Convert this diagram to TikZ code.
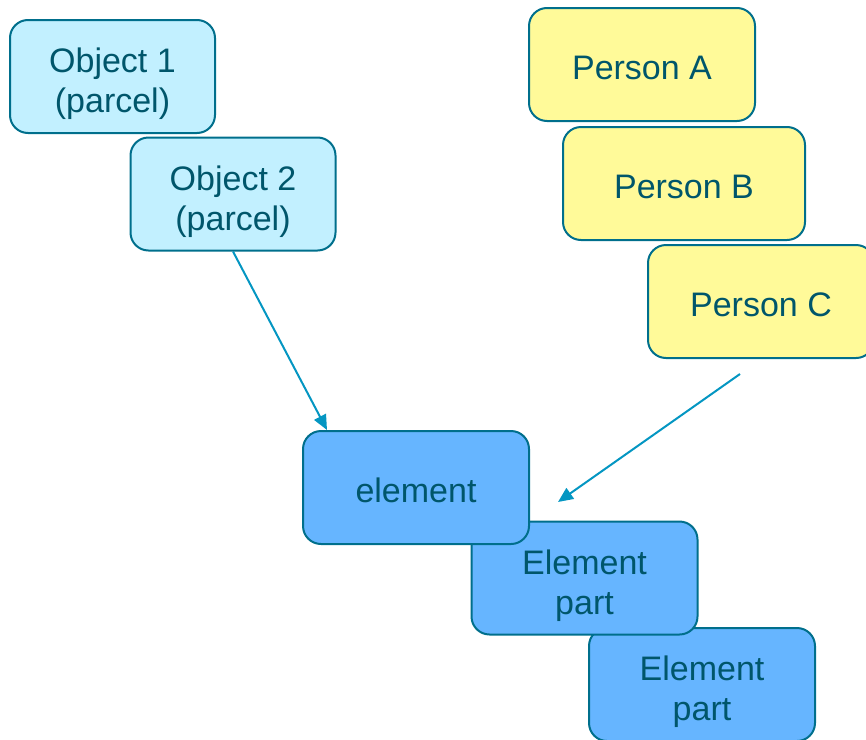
\documentclass[tikz,border=0pt]{standalone}
\usepackage{fontspec}
\setmainfont{Liberation Sans}
\usetikzlibrary{arrows.meta}
\definecolor{boxline}{HTML}{006F8C}
\definecolor{boxtext}{HTML}{00566B}
\definecolor{objfill}{HTML}{C2F0FF}
\definecolor{perfill}{HTML}{FFFA99}
\definecolor{elefill}{HTML}{66B5FF}
\definecolor{arrowline}{HTML}{0496C2}
\begin{document}
\begin{tikzpicture}[x=1pt, y=-1pt,
  box/.style={draw=boxline, line width=2pt, rounded corners=18pt, minimum height=113pt,
    minimum width=226pt, inner sep=0pt, align=center, text=boxtext,
    font=\fontsize{34}{40}\selectfont},
  one line/.style={text height=31pt},
  two lines/.style={text height=72pt, text depth=0pt},
  obj/.style={box, two lines, fill=objfill, minimum width=205pt},
  per/.style={box, one line, fill=perfill},
  ele/.style={box, fill=elefill},
  link/.style={draw=arrowline, line width=2pt, -{Triangle[length=15pt,width=13pt]}}]
\useasboundingbox (0,0) rectangle (866,739);
\node[obj] (O_1) at (112.5,76.5) {Object 1\\(parcel)};
\node[obj] (O_2) at (233,194) {Object 2\\(parcel)};
\node[per] (P_A) at (642,64.5) {Person A};
\node[per, minimum width=242pt] (P_B) at (684,183.5) {Person B};
\node[per] (P_C) at (761,301.5) {Person C};
\node[ele, two lines] (E_2) at (702,684.5) {Element\\part};
\node[ele, two lines] (E_1) at (584.5,578) {Element\\part};
\node[ele, one line] (E_0) at (416,487.5) {element};
\coordinate (E_0_in) at ([xshift=25pt]E_0.north west);
\draw[link] (O_2.south) -- (E_0_in);
\coordinate (P_C_out) at ([yshift=-15pt]P_C.south -| 740,0);
\coordinate (E_1_in) at (558,502);
\draw[link] (P_C_out) -- (E_1_in);
\end{tikzpicture}
\end{document}
